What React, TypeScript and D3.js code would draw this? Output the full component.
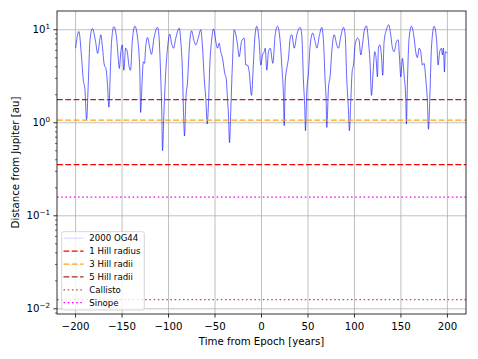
import React from "react";
import * as d3 from "d3";

const times: number[] = [
  -200, -196.5, -193.5, -191.7, -190.0, -188.2, -186.3, -184.6, -182.0, -178.5, -176.3, -172.8, -171.0, -169.1,
  -167.4, -165.6, -164.2, -162.4, -161.3, -158.8, -155.9, -154.1, -153.0, -151.3, -149.8, -148.1, -146.2, -144.4,
  -142.7, -140.9, -139.0, -136.2, -133.3, -130.9, -130.1, -128.3, -127.2, -125.8, -124.7, -122.6, -120.1, -118.3,
  -115.8, -111.8, -110.4, -108.6, -107.2, -106.5, -105.1, -103.2, -101.1, -98.6,
  -96.8, -94.6, -92.2, -88.5, -86.8, -84.9, -83.9, -82.8, -81.4, -79.6, -77.7, -75.3, -72.4, -70.6, -68.1, -65.3,
  -63.4, -61.6, -59.9, -58.4, -57.0, -55.6, -53.8, -51.6, -49.1, -47.3, -45.5, -43.8, -41.9, -39.5, -38.0, -36.6,
  -35.5, -34.4, -33.0, -31.2, -29.4, -27.6, -25.8, -24.0, -21.5, -18.6, -16.9, -15.1, -13.2, -10.8, -8.6, -7.2,
  -5.1, -2.5, -0.8, 1.1, 2.9,
  4.0, 5.7, 7.5, 9.4, 12.2, 14.7, 17.2, 20.1, 21.8, 23.7, 24.4, 25.5, 27.2, 29.0, 30.9, 32.6, 35.2, 38.0, 41.6,
  43.3, 45.2, 46.6, 47.3, 48.7, 50.5, 52.4, 55.2, 57.7, 59.5, 62.4, 64.8, 66.7, 68.5, 69.6, 70.2, 72.0, 73.9, 75.6,
  78.2, 81.0, 82.8, 85.3, 88.2, 90.0, 91.7, 93.5, 94.6, 96.0, 97.5, 98.9, 100.8, 103.2,
  104.9, 106.8, 108.6, 110.4, 112.9, 115.1, 116.9, 118.3, 120.1, 121.8, 123.3, 124.7, 125.8, 127.2, 129.0, 130.4,
  131.9, 134.4, 136.9, 139.0, 140.9, 142.7, 145.2, 147.0, 148.7, 149.8, 151.6, 153.4, 155.2, 155.9, 157.0, 158.8,
  161.3, 164.2, 165.9, 167.7, 169.6, 171.3, 173.1, 174.9, 176.7, 178.5, 179.6, 181.4, 182.8, 185.7, 188.5, 190.0,
  191.7, 193.5, 194.6, 195.7, 196.8, 197.8, 200.0,
];

const distances: number[] = [
  6.33, 9.59, 4.92, 2.86, 2.32, 1.08, 2.74, 7.46, 10.3, 7.46, 5.58, 8.83, 6.33, 4.17,
  3.84, 2.52, 1.47, 4.17, 7.46, 10.8, 8.13, 4.92, 3.84, 5.81, 6.87, 3.67, 6.33, 5.81,
  4.17, 3.67, 7.46, 10.9, 8.13, 3.52, 1.29, 2.99, 4.52, 4.35, 6.33, 8.25, 6.33, 5.44,
  7.98, 10.6, 8.83, 3.52, 1.19, 0.5, 1.19, 3.24, 6.33, 8.98,
  7.17, 6.33, 8.13, 10.4, 7.46, 3.24, 1.29, 0.72, 1.81, 2.74, 6.33, 9.75, 7.46, 6.87, 8.13, 10.0,
  6.33, 2.99, 1.81, 0.97, 1.66, 4.17, 7.46, 10.2, 7.46, 6.33, 7.17, 5.81, 4.92, 3.38, 2.99, 1.81,
  1.19, 0.61, 1.41, 4.52, 10.0, 8.83, 6.87, 5.13, 7.46, 8.13, 4.17, 4.17, 3.52, 1.97, 4.52, 8.13,
  10.9, 7.46, 4.17, 5.35, 5.81,
  6.33, 3.67, 5.81, 6.33, 4.35, 8.83, 10.9, 7.46, 4.17, 1.81, 0.93, 2.74, 3.84, 4.92, 8.13, 8.83, 6.33, 8.83, 10.6,
  8.83, 2.74, 1.41, 0.82, 2.14, 3.38, 6.87, 9.21, 7.46, 6.33, 8.83, 10.6, 7.46, 2.74, 1.66, 0.89, 2.32, 3.24, 5.81,
  8.83, 6.87, 6.33, 8.46, 10.6, 8.83, 2.99, 1.41, 0.82, 1.66, 3.52, 4.17, 6.87, 8.13,
  7.79, 5.35, 6.87, 9.59, 11.0, 7.46, 4.17, 1.97, 3.52, 5.81, 4.92, 3.11, 6.33, 6.87, 5.35, 3.24,
  7.46, 10.0, 11.3, 8.83, 6.33, 5.81, 7.46, 7.79, 4.52, 3.11, 4.92, 3.24, 1.81, 0.97, 2.74, 8.13,
  10.9, 8.13, 5.81, 5.0, 6.33, 5.81, 4.17, 4.35, 2.99, 1.66, 0.85, 2.32, 6.33, 10.9, 7.46, 4.17,
  5.81, 6.33, 5.35, 6.33, 3.52, 5.81, 5.58,
];

const refNames: string[] = ["1 Hill radius", "3 Hill radii", "5 Hill radii", "Callisto", "Sinope"];
const refValues: number[] = [0.355, 1.065, 1.775, 0.01259, 0.1585];
const refColors: string[] = ["#ff0000", "#ffa500", "#a52a2a", "#c0504d", "#ff00ff"];
const refDash: string[] = ["5.8,2.5", "5.8,2.5", "5.8,2.5", "1.6,2.6", "1.6,2.6"];

const xTicks: number[] = [-200, -150, -100, -50, 0, 50, 100, 150, 200];
const yTickExps: number[] = [-2, -1, 0, 1];

const W = 478;
const H = 359;
const L = 57, R = 466, T = 11, B = 314;
const FONT = "DejaVu Sans, sans-serif";

export default function App() {
  const x = d3.scaleLinear().domain([-220, 220]).range([L, R]);
  const y = d3.scaleLog().domain([0.0088, 15.9]).range([B, T]);

  const pts = times.map((t, i) => [t, distances[i]] as [number, number]);
  const line = d3
    .line<[number, number]>()
    .x((d) => x(d[0]))
    .y((d) => y(d[1]))
    .curve(d3.curveMonotoneX);

  const minor: number[] = [];
  for (let e = -3; e <= 1; e++) {
    for (let m = 2; m <= 9; m++) {
      const v = m * Math.pow(10, e);
      if (v >= 0.0088 && v <= 15.9) minor.push(v);
    }
  }

  const fmtExp = (e: number) => (e < 0 ? "\u2212" + Math.abs(e) : String(e));
  const legendItems = ["2000 OG44", ...refNames];

  return (
    <svg width={W} height={H} style={{ position: "absolute", left: 0, top: 0, background: "#fff" }} fontFamily={FONT}>
      <rect x={0} y={0} width={W} height={H} fill="#fff" />
      {/* grid */}
      {xTicks.map((t) => (
        <line key={"gx" + t} x1={x(t)} x2={x(t)} y1={T} y2={B} stroke="#b0b0b0" strokeWidth={0.8} />
      ))}
      {yTickExps.map((e) => (
        <line key={"gy" + e} x1={L} x2={R} y1={y(Math.pow(10, e))} y2={y(Math.pow(10, e))} stroke="#b0b0b0" strokeWidth={0.8} />
      ))}
      {/* data line */}
      <path d={line(pts) || ""} fill="none" stroke="#0000ff" strokeOpacity={0.6} strokeWidth={1} />
      {/* reference lines */}
      {refValues.map((v, i) => (
        <line key={"r" + i} x1={L} x2={R} y1={y(v)} y2={y(v)} stroke={refColors[i]} strokeWidth={1.2} strokeDasharray={refDash[i]} />
      ))}
      {/* frame */}
      <rect x={L} y={T} width={R - L} height={B - T} fill="none" stroke="#000" strokeWidth={0.8} />
      {/* x ticks */}
      {xTicks.map((t) => (
        <g key={"xt" + t}>
          <line x1={x(t)} x2={x(t)} y1={B} y2={B + 3.6} stroke="#000" strokeWidth={0.8} />
          <text x={x(t)} y={B + 16} textAnchor="middle" fontSize={10.2} fill="#000">
            {t < 0 ? "\u2212" + Math.abs(t) : String(t)}
          </text>
        </g>
      ))}
      {/* y ticks */}
      {yTickExps.map((e) => (
        <g key={"yt" + e}>
          <line x1={L - 3.6} x2={L} y1={y(Math.pow(10, e))} y2={y(Math.pow(10, e))} stroke="#000" strokeWidth={0.8} />
          <text x={L - 7} y={y(Math.pow(10, e)) + 3.5} textAnchor="end" fontSize={10.2} fill="#000">
            10<tspan dy={-4.5} fontSize={7.2}>{fmtExp(e)}</tspan>
          </text>
        </g>
      ))}
      {minor.map((v, i) => (
        <line key={"mn" + i} x1={L - 2} x2={L} y1={y(v)} y2={y(v)} stroke="#000" strokeWidth={0.6} />
      ))}
      {/* axis labels */}
      <text x={(L + R) / 2} y={345} textAnchor="middle" fontSize={10.2} fill="#000">
        Time from Epoch [years]
      </text>
      <text transform={`translate(18.5, ${(T + B) / 2}) rotate(-90)`} textAnchor="middle" fontSize={10.2} fill="#000">
        Distance from Jupiter [au]
      </text>
      {/* legend */}
      <rect x={61.7} y={231.7} width={82.6} height={78.3} rx={2} fill="#fff" fillOpacity={0.8} stroke="#cccccc" strokeWidth={0.8} />
      {legendItems.map((name, i) => {
        const cy = 238.3 + i * 12.88;
        const isData = i === 0;
        return (
          <g key={"lg" + i}>
            <line
              x1={63.5}
              x2={83.5}
              y1={cy}
              y2={cy}
              stroke={isData ? "#0000ff" : refColors[i - 1]}
              strokeOpacity={isData ? 0.12 : 1}
              strokeWidth={isData ? 1.5 : 1.2}
              strokeDasharray={isData ? undefined : refDash[i - 1]}
            />
            <text x={89.3} y={cy + 3} fontSize={8.6} fill="#000">
              {name}
            </text>
          </g>
        );
      })}
    </svg>
  );
}
